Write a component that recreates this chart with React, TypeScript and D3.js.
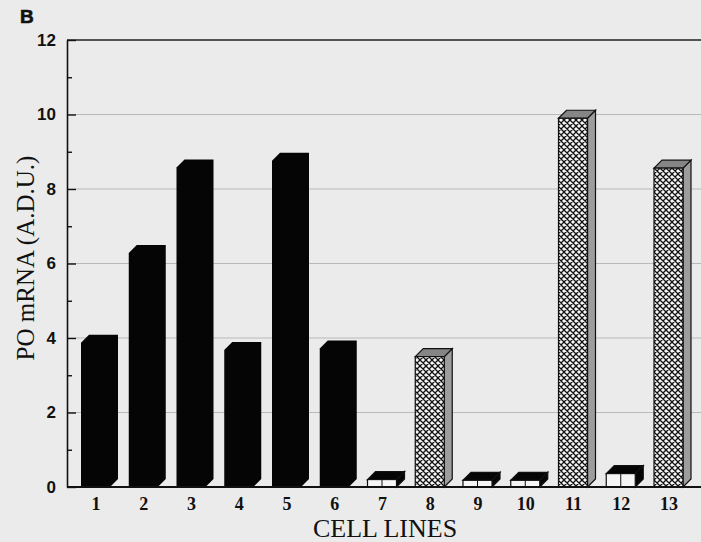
import React, { useEffect, useRef } from "react";
import * as d3 from "d3";

const cellLines = ["1", "2", "3", "4", "5", "6", "7", "8", "9", "10", "11", "12", "13"];
const poValues = [3.87, 6.28, 8.58, 3.68, 8.76, 3.72, 0.2, 3.5, 0.18, 0.18, 9.9, 0.36, 8.56];
// solid = black bar, open = white front / black top, hatched = cross-hatch
const barStyles = ["solid", "solid", "solid", "solid", "solid", "solid", "open", "hatched", "open", "open", "hatched", "open", "hatched"];
const majorTicks = [0, 2, 4, 6, 8, 10, 12];
const minorTicks = [1, 3, 5, 7, 9, 11];
const gridTicks = [2, 4, 6, 8, 10];

const App = () => {
  const svgRef = useRef<SVGSVGElement>(null);

  useEffect(() => {
    const width = 701;
    const height = 542;
    const left = 67;
    const top = 40;
    const bottom = 487;
    const right = 705;
    const frontW = 29;
    const depth = 8;

    const svg = d3.select(svgRef.current);
    svg.selectAll("*").remove();

    const x = d3.scalePoint<string>().domain(cellLines).range([95.5, 668.5]);
    const y = d3.scaleLinear().domain([0, 12]).range([bottom, top]);

    const defs = svg.append("defs");
    const pat = defs
      .append("pattern")
      .attr("id", "xhatch")
      .attr("patternUnits", "userSpaceOnUse")
      .attr("width", 6)
      .attr("height", 6);
    pat.append("rect").attr("width", 6).attr("height", 6).attr("fill", "#f6f6f6");
    pat
      .append("path")
      .attr("d", "M0,0L6,6M6,0L0,6M-1,5L1,7M5,-1L7,1M5,7L7,5M-1,1L1,-1")
      .attr("stroke", "#111")
      .attr("stroke-width", 1.3);

    // background (scanned paper)
    svg.append("rect").attr("width", width).attr("height", height).attr("fill", "#ebebeb");

    // grid lines
    svg
      .append("g")
      .selectAll("line")
      .data(gridTicks)
      .join("line")
      .attr("x1", left)
      .attr("x2", right)
      .attr("y1", (d) => y(d))
      .attr("y2", (d) => y(d))
      .attr("stroke", "#b9b9b9")
      .attr("stroke-width", 1);

    // frame top
    svg
      .append("line")
      .attr("x1", left)
      .attr("x2", right)
      .attr("y1", top)
      .attr("y2", top)
      .attr("stroke", "#222")
      .attr("stroke-width", 1.5);

    // bars
    const bars = svg.append("g");
    cellLines.forEach((c, i) => {
      const v = poValues[i];
      const style = barStyles[i];
      const x0 = (x(c) as number) - frontW / 2;
      const x1 = x0 + frontW;
      const yt = y(v);
      const y0 = y(0);
      const g = bars.append("g");
      if (style === "solid") {
        g.append("path")
          .attr(
            "d",
            d3.line()([
              [x0, yt],
              [x0 + depth, yt - depth],
              [x1 + depth, yt - depth],
              [x1 + depth, y0 - depth],
              [x1, y0],
              [x0, y0],
            ]) + "Z"
          )
          .attr("fill", "#050505");
        return;
      }
      const topFill = style === "hatched" ? "#858585" : "#050505";
      const sideFill = style === "hatched" ? "#9d9d9d" : "#050505";
      g.append("path")
        .attr(
          "d",
          d3.line()([
            [x1, yt],
            [x1 + depth, yt - depth],
            [x1 + depth, y0 - depth],
            [x1, y0],
          ]) + "Z"
        )
        .attr("fill", sideFill)
        .attr("stroke", "#111")
        .attr("stroke-width", 1.2);
      g.append("path")
        .attr(
          "d",
          d3.line()([
            [x0, yt],
            [x0 + depth, yt - depth],
            [x1 + depth, yt - depth],
            [x1, yt],
          ]) + "Z"
        )
        .attr("fill", topFill)
        .attr("stroke", "#111")
        .attr("stroke-width", 1.2);
      g.append("rect")
        .attr("x", x0)
        .attr("y", yt)
        .attr("width", frontW)
        .attr("height", y0 - yt)
        .attr("fill", style === "hatched" ? "url(#xhatch)" : "#f6f6f6")
        .attr("stroke", "#111")
        .attr("stroke-width", 1.2);
      if (style === "open") {
        g.append("line")
          .attr("x1", x0 + frontW / 2)
          .attr("x2", x0 + frontW / 2)
          .attr("y1", yt)
          .attr("y2", y0)
          .attr("stroke", "#111")
          .attr("stroke-width", 1);
      }
    });

    // y axis (ticks point inward)
    svg
      .append("g")
      .attr("transform", `translate(${left},0)`)
      .call(d3.axisLeft(y).tickValues(majorTicks).tickSize(-9).tickPadding(11).tickSizeOuter(0))
      .call((g) => g.select(".domain").attr("stroke", "#111").attr("stroke-width", 1.6))
      .call((g) => g.selectAll(".tick line").attr("stroke", "#111").attr("stroke-width", 1.4))
      .call((g) =>
        g
          .selectAll(".tick text")
          .attr("font-family", "Liberation Sans, Arial, sans-serif")
          .attr("font-weight", "bold")
          .attr("font-size", 17)
          .attr("fill", "#111")
      );
    svg
      .append("g")
      .attr("transform", `translate(${left},0)`)
      .call(d3.axisLeft(y).tickValues(minorTicks).tickSize(-5).tickFormat(() => "").tickSizeOuter(0))
      .call((g) => g.select(".domain").remove())
      .call((g) => g.selectAll(".tick line").attr("stroke", "#111").attr("stroke-width", 1.4));

    // x axis
    svg
      .append("g")
      .attr("transform", `translate(0,${bottom})`)
      .call(d3.axisBottom(x).tickSize(0).tickPadding(10))
      .call((g) => g.select(".domain").remove())
      .call((g) =>
        g
          .selectAll(".tick text")
          .attr("font-family", "Liberation Serif, Times New Roman, serif")
          .attr("font-weight", "bold")
          .attr("font-size", 18)
          .attr("fill", "#111")
      );
    svg
      .append("line")
      .attr("x1", left)
      .attr("x2", right)
      .attr("y1", bottom)
      .attr("y2", bottom)
      .attr("stroke", "#111")
      .attr("stroke-width", 1.8);

    // titles
    svg
      .append("text")
      .attr("x", 385)
      .attr("y", 537)
      .attr("text-anchor", "middle")
      .attr("font-family", "Liberation Serif, Times New Roman, serif")
      .attr("font-size", 26)
      .attr("fill", "#111")
      .text("CELL LINES");
    svg
      .append("text")
      .attr("transform", "translate(34,258) rotate(-90)")
      .attr("text-anchor", "middle")
      .attr("font-family", "Liberation Serif, Times New Roman, serif")
      .attr("font-size", 25)
      .attr("fill", "#111")
      .text("PO mRNA (A.D.U.)");
    svg
      .append("text")
      .attr("x", 20)
      .attr("y", 23)
      .attr("font-family", "Liberation Sans, Arial, sans-serif")
      .attr("font-weight", "bold")
      .attr("font-size", 19)
      .attr("stroke", "#111")
      .attr("stroke-width", 0.6)
      .attr("fill", "#111")
      .text("B");
  }, []);

  return (
    <svg
      ref={svgRef}
      width={701}
      height={542}
      style={{ position: "absolute", left: 0, top: 0, display: "block" }}
    />
  );
};

export default App;
